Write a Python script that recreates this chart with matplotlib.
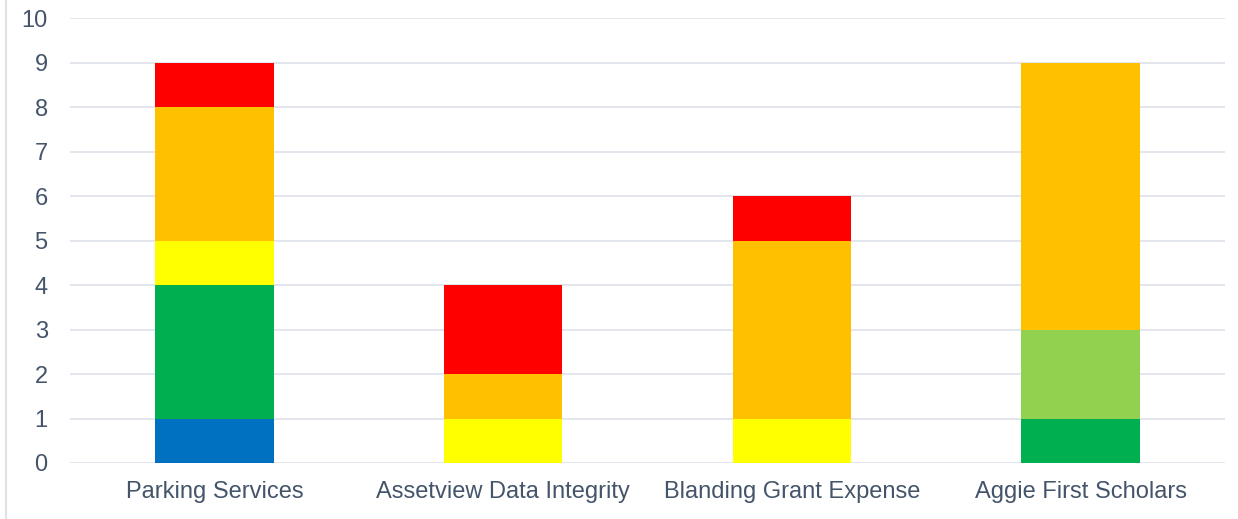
import numpy as np
import matplotlib.pyplot as plt
from matplotlib.lines import Line2D

plt.rcParams['font.family'] = ['Liberation Sans', 'DejaVu Sans']

# DATA
categories = ["Parking Services", "Assetview Data Integrity",
              "Blanding Grant Expense", "Aggie First Scholars"]
blue       = [1, 0, 0, 0]
dark_green = [3, 0, 0, 1]
lt_green   = [0, 0, 0, 2]
yellow     = [1, 1, 1, 0]
orange     = [3, 1, 4, 6]
red        = [1, 2, 1, 0]

series = [blue, dark_green, lt_green, yellow, orange, red]
colors = ["#0070c0", "#00b050", "#92d050", "#ffff00", "#ffc000", "#ff0000"]

fig = plt.figure(figsize=(12.38, 5.19), dpi=100)
ax = fig.add_axes([0.0565, 0.1079, 0.933, 0.8574])

x = np.arange(len(categories))
bottom = np.zeros(len(categories))
for vals, c in zip(series, colors):
    vals = np.array(vals, dtype=float)
    ax.bar(x, vals, 0.41, bottom=bottom, color=c, zorder=3)
    bottom += vals

ax.set_xlim(-0.5, len(categories) - 0.5)
ax.set_ylim(0, 10)
ax.set_yticks(range(0, 11))
ax.set_xticks(x)
ax.set_xticklabels(categories)
ax.grid(axis="y", color="#e1e5ec", lw=1.3, zorder=0)
for s in ax.spines.values():
    s.set_visible(False)
ax.tick_params(length=0, labelsize=17, colors="#44546a")
ax.tick_params(axis="y", pad=16)
ax.tick_params(axis="x", pad=13)

# left border line
fig.add_artist(Line2D([0.005, 0.005], [0, 1], color="#dde1e8", lw=1.5,
                      transform=fig.transFigure))

fig.savefig("out.png", dpi=100)
